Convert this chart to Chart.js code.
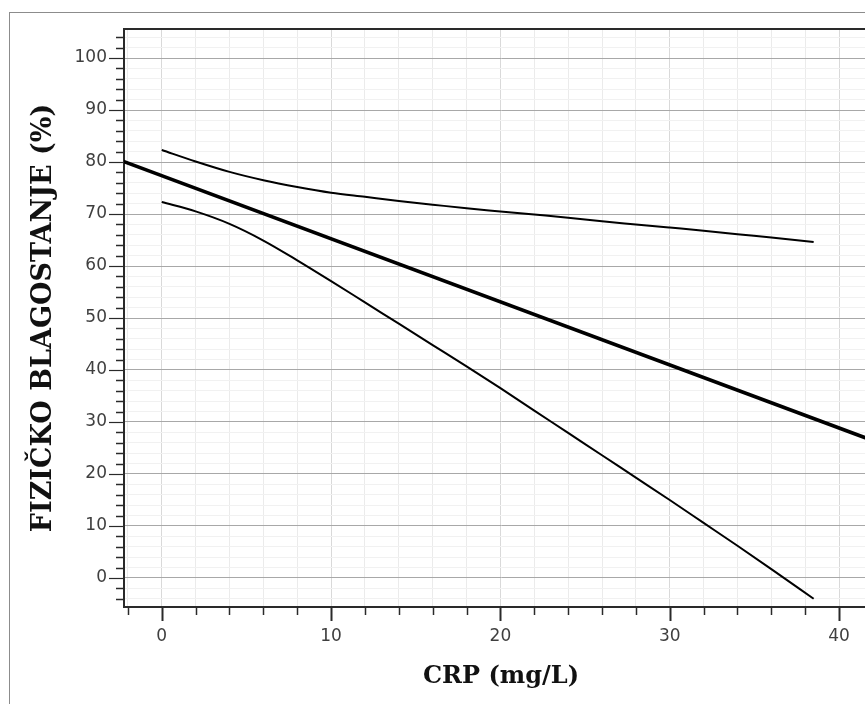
<!DOCTYPE html>
<html><head><meta charset="utf-8">
<script src="https://cdn.jsdelivr.net/npm/chart.js@4/dist/chart.umd.min.js"></script>
<style>
html,body{margin:0;padding:0;background:#fff;overflow:hidden;width:865px;height:704px}
#wrap{position:absolute;left:0;top:0;width:900px;height:704px}
</style></head><body><div id="wrap"><canvas id="c" width="900" height="704"></canvas></div>
<script>
// ---- data ----
const xTitle = 'CRP (mg/L)';
const yTitle = 'FIZIČKO BLAGOSTANJE (%)';
const xMajorTicks = [0, 10, 20, 30, 40];
const yMajorTicks = [0, 10, 20, 30, 40, 50, 60, 70, 80, 90, 100];
const minorStep = 2;
const xRange = [-2.23, 42.3];
const yRange = [-5.58, 105.58];

// regression line (fit)
const fitX = [-2.5, 43];
const fitY = [80.4, 25.2];

// confidence band curves
const ciX     = [0, 2, 4, 6, 8, 10, 12, 14, 16, 18, 20, 22, 24, 26, 28, 30, 32, 34, 36, 38.5];
const upperCI = [82.3, 80.1, 78.1, 76.5, 75.2, 74.1, 73.3, 72.5, 71.8, 71.1, 70.5, 69.9, 69.3, 68.6, 68.0, 67.4, 66.8, 66.1, 65.5, 64.6];
const lowerCI = [72.3, 70.5, 68.1, 64.9, 61.1, 57.1, 53.0, 48.9, 44.8, 40.7, 36.5, 32.2, 27.9, 23.6, 19.3, 15.0, 10.6, 6.2, 1.7, -4.0];

// ---- helpers ----
function stepTicks(lo, hi) {
  const out = [];
  for (let v = Math.ceil(lo / minorStep) * minorStep; v <= hi; v += minorStep) out.push({ value: v });
  return out;
}
const pts = (xs, ys) => xs.map((x, i) => ({ x, y: ys[i] }));

const tickPlugin = {
  id: 'frameTicks',
  beforeDraw(chart) {
    const ctx = chart.ctx;
    ctx.save();
    ctx.strokeStyle = '#8c8c8c';
    ctx.lineWidth = 1;
    ctx.strokeRect(9.5, 12.5, 1000, 1000);
    ctx.restore();
  },
  afterDraw(chart) {
    const ctx = chart.ctx;
    const a = chart.chartArea;
    const xs = chart.scales.x, ys = chart.scales.y;
    ctx.save();
    ctx.strokeStyle = '#2a2a2a';
    ctx.lineWidth = 2;
    ctx.beginPath(); ctx.moveTo(a.left - 1, a.top); ctx.lineTo(a.right, a.top); ctx.stroke();
    ys.ticks.forEach(t => {
      const major = yMajorTicks.includes(t.value);
      const py = Math.round(ys.getPixelForValue(t.value)) + 0.5;
      ctx.lineWidth = major ? 1.2 : 1.5;
      ctx.beginPath(); ctx.moveTo(a.left - (major ? 15 : 8), py); ctx.lineTo(a.left, py); ctx.stroke();
    });
    xs.ticks.forEach(t => {
      const major = xMajorTicks.includes(t.value);
      const px = Math.round(xs.getPixelForValue(t.value)) + 0.5;
      ctx.lineWidth = major ? 2 : 1.5;
      ctx.beginPath(); ctx.moveTo(px, a.bottom); ctx.lineTo(px, a.bottom + (major ? 14 : 8)); ctx.stroke();
    });
    ctx.restore();
  }
};

const tickFont = { family: 'DejaVu Sans', size: 17 };

new Chart(document.getElementById('c'), {
  type: 'scatter',
  data: {
    datasets: [
      { data: pts(ciX, upperCI), showLine: true, borderColor: '#000', borderWidth: 2, pointRadius: 0, cubicInterpolationMode: 'monotone' },
      { data: pts(ciX, lowerCI), showLine: true, borderColor: '#000', borderWidth: 2, pointRadius: 0, cubicInterpolationMode: 'monotone' },
      { data: pts(fitX, fitY), showLine: true, borderColor: '#000', borderWidth: 3.6, pointRadius: 0 }
    ]
  },
  options: {
    responsive: false,
    animation: false,
    layout: { padding: { left: 0, top: 29, right: 22, bottom: 0 } },
    plugins: { legend: { display: false }, tooltip: { enabled: false } },
    scales: {
      x: {
        type: 'linear', min: xRange[0], max: xRange[1],
        afterBuildTicks: s => { s.ticks = stepTicks(xRange[0], xRange[1]); },
        afterFit: s => { s.height = 97; },
        grid: {
          color: c => (c.tick && xMajorTicks.includes(c.tick.value)) ? '#d9d9d9' : '#ebebeb',
          lineWidth: 1, drawTicks: true, tickLength: 14, tickColor: 'rgba(0,0,0,0)'
        },
        border: { display: true, color: '#2a2a2a', width: 2 },
        ticks: {
          autoSkip: false, maxRotation: 0, padding: 5, color: '#3f3f3f', font: tickFont,
          callback: v => xMajorTicks.includes(v) ? String(v) : ''
        },
        title: { display: true, text: xTitle, color: '#111', font: { family: 'DejaVu Serif', size: 24, weight: 'bold' }, padding: { top: 0, bottom: 13 } }
      },
      y: {
        type: 'linear', min: yRange[0], max: yRange[1],
        afterBuildTicks: s => { s.ticks = stepTicks(yRange[0], yRange[1]); },
        afterFit: s => { s.width = 124; },
        grid: {
          color: c => (c.tick && yMajorTicks.includes(c.tick.value)) ? '#a8a8a8' : '#f1f1f1',
          lineWidth: 1, drawTicks: true, tickLength: 15, tickColor: 'rgba(0,0,0,0)'
        },
        border: { display: true, color: '#2a2a2a', width: 2 },
        ticks: {
          autoSkip: false, padding: 2, color: '#3f3f3f', font: tickFont,
          callback: v => yMajorTicks.includes(v) ? String(v) : ''
        },
        title: { display: true, text: yTitle, color: '#111', font: { family: 'DejaVu Serif', size: 27, weight: 'bold' }, padding: { top: 28, bottom: 0 } }
      }
    }
  },
  plugins: [tickPlugin]
});
</script></body></html>
